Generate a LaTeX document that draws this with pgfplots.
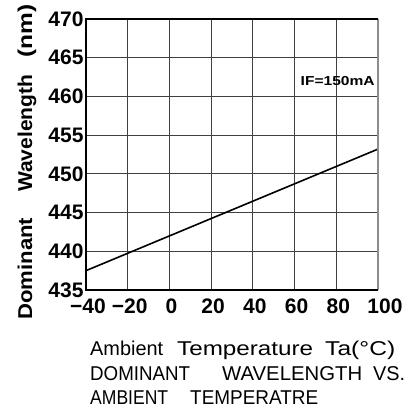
\documentclass[border=0pt]{standalone}
\usepackage{fontspec}
\setmainfont{Liberation Sans}
\usepackage{graphicx}
\usepackage{pgfplots}
\pgfplotsset{compat=1.18}
% stretch a word horizontally to a measured width, keeping its height
\newlength\fwlen
\newcommand\fw[2]{\settowidth\fwlen{#2}\pgfmathsetmacro\fwf{#1/\fwlen}\scalebox{\fwf}[1]{#2}}
\begin{document}
\begin{tikzpicture}[x=1pt,y=1pt]
\useasboundingbox (0pt,0pt) rectangle (409pt,-410pt);
\begin{axis}[
    at={(86pt,-290pt)}, anchor=south west,
    scale only axis, width=292pt, height=271pt,
    xmin=-40, xmax=100, ymin=435, ymax=470,
    xtick={-40,-20,0,20,40,60,80,100},
    xticklabels={−40,−20,0,20,40,60,80,\hspace*{10pt}100},
    ytick={435,440,445,450,455,460,465,470},
    yticklabels={435,440,445,450,455,460,465,470},
    major tick length=0pt,
    grid=major,
    major grid style={black!75, line width=0.8pt},
    axis line style={draw=none},
    tick label style={font=\fontsize{21}{21}\selectfont\bfseries},
    xticklabel style={yshift=-5pt, xshift=2pt},
    yticklabel style={xshift=1pt},
    /pgf/number format/assume math mode=true,
    extra x ticks={20}, extra x tick labels={},
    extra y ticks={440,450}, extra y tick labels={},
    extra tick style={grid style={black, line width=1.2pt}},
    clip=false,
]
\addplot[black, line width=1.6pt] coordinates {(-40,437.5) (100,453.2)};
% frame: right side lighter, as in the print
\draw[black!45, line width=1.2pt] (rel axis cs:1,0) -- (rel axis cs:1,1);
\draw[black, line width=1.2pt] (rel axis cs:1,1) -- (rel axis cs:0,1) -- (rel axis cs:0,0) -- (rel axis cs:1,0);
\node[anchor=east, inner sep=0pt, font=\fontsize{13}{13}\selectfont\bfseries]
    at (axis cs:98.5,462) {\fw{74}{IF=150mA}};
\end{axis}
% y label, one word at a time, reading upward
\begin{scope}[font=\fontsize{20}{20}\selectfont\bfseries]
\node[rotate=90, anchor=base west, inner sep=0pt] at (32pt,-320pt) {\fw{102}{Dominant}};
\node[rotate=90, anchor=base west, inner sep=0pt] at (32pt,-192pt) {\fw{117}{Wavelength}};
\node[rotate=90, anchor=base west, inner sep=0pt] at (32pt,-58pt) {\fw{53}{(nm)}};
\end{scope}
% caption lines under the axis
\begin{scope}[font=\fontsize{20}{20}\selectfont]
\node[anchor=base west, inner sep=0pt] at (90pt,-355pt) {\fw{73}{Ambient}};
\node[anchor=base west, inner sep=0pt] at (177pt,-355pt) {\fw{136}{Temperature}};
\node[anchor=base west, inner sep=0pt] at (325pt,-355pt) {\fw{70}{Ta(°C)}};
\node[anchor=base west, inner sep=0pt] at (90pt,-380pt) {\fw{100}{DOMINANT}};
\node[anchor=base west, inner sep=0pt] at (222pt,-380pt) {\fw{140}{WAVELENGTH}};
\node[anchor=base west, inner sep=0pt] at (373pt,-380pt) {\fw{32}{VS.}};
\node[anchor=base west, inner sep=0pt] at (90pt,-404pt) {\fw{78}{AMBIENT}};
\node[anchor=base west, inner sep=0pt] at (190pt,-404pt) {\fw{128}{TEMPERATRE}};
\end{scope}
\end{tikzpicture}
\end{document}
